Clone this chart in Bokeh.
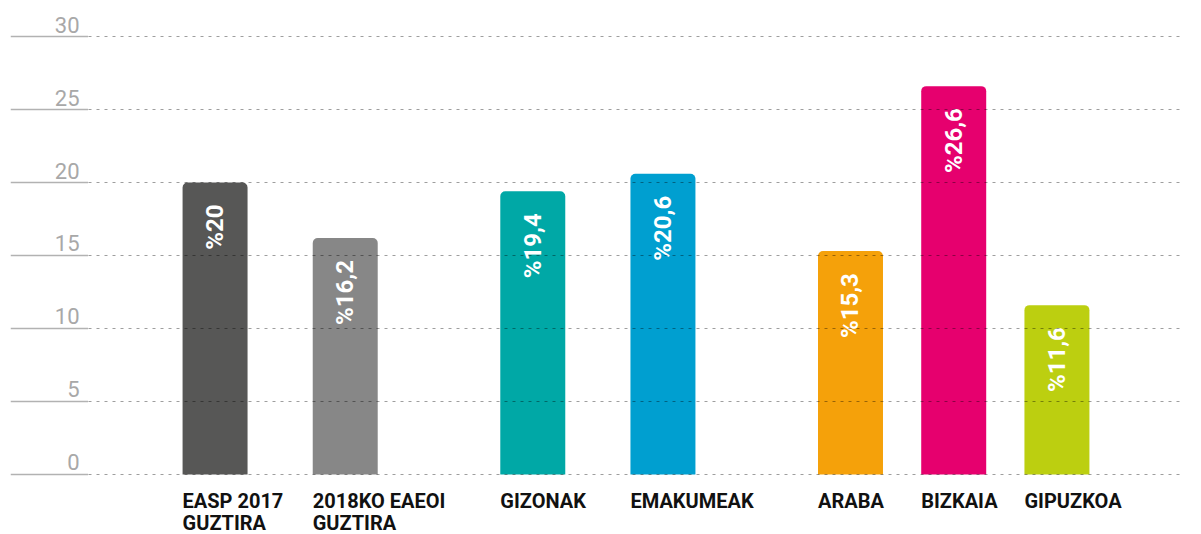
import math
from bokeh.plotting import figure
from bokeh.models import FactorRange, Range1d, Grid, FixedTicker, ColumnDataSource
from bokeh.layouts import row
from bokeh.core.properties import value
from bokeh.embed import file_html
from bokeh.resources import INLINE

FONT = "Roboto"

# ---- data ----
categories = ["EASP 2017\nGUZTIRA", "2018KO EAEOI\nGUZTIRA", "GIZONAK", "EMAKUMEAK",
              "ARABA", "BIZKAIA", "GIPUZKOA"]
groups = ["GUZTIRA", "GUZTIRA", "SEXUA", "SEXUA", "LURRALDEA", "LURRALDEA", "LURRALDEA"]
subgroups = ["EASP", "EAEOI", "GIZONAK", "EMAKUMEAK", "LURRALDEAK", "LURRALDEAK", "LURRALDEAK"]
values = [20, 16.2, 19.4, 20.6, 15.3, 26.6, 11.6]
value_labels = ["%20", "%16,2", "%19,4", "%20,6", "%15,3", "%26,6", "%11,6"]
colors = ["#575756", "#878787", "#00a8a6", "#009fd0", "#f5a10a", "#e6006e", "#bccf10"]
y_ticks = [0, 5, 10, 15, 20, 25, 30]
y_tick_labels = ["0", "5", "10", "15", "20", "25", "30"]

factors = [(g, s, c.replace("\n", " ")) for g, s, c in zip(groups, subgroups, categories)]
line1 = [c.split("\n")[0] for c in categories]
line2 = [c.split("\n")[1] if "\n" in c else "" for c in categories]

H = 534
y_range = Range1d(-4.11, 32.466)

# ---- left strip: solid tick lines + tick labels ----
left = figure(width=88, height=H, x_range=Range1d(0, 1), y_range=y_range,
              output_backend="svg", toolbar_location=None,
              x_axis_location=None, y_axis_location=None,
              min_border=0, min_border_left=10, min_border_right=0,
              min_border_top=0, min_border_bottom=0,
              outline_line_color=None, background_fill_color="white",
              border_fill_color="white")
left.xgrid.visible = False
left.ygrid.visible = False
left.add_layout(Grid(dimension=1, ticker=FixedTicker(ticks=y_ticks),
                     grid_line_color="#b2b2b2", grid_line_width=1.5))
left.text(x=1, y=y_ticks, text=y_tick_labels, text_align="right",
          text_baseline="alphabetic", x_offset=-9, y_offset=-12,
          text_font=value(FONT), text_font_size="22px", text_color="#a8a8a8")

# ---- main chart ----
x_range = FactorRange(*factors, group_padding=0.876, subgroup_padding=0.302,
                      factor_padding=0.0325, range_padding=0.766,
                      range_padding_units="absolute")

p = figure(width=1113, height=H, x_range=x_range, y_range=y_range,
           output_backend="svg", toolbar_location=None,
           x_axis_location=None, y_axis_location=None,
           min_border=0, min_border_left=0, min_border_right=18,
           min_border_top=0, min_border_bottom=0,
           outline_line_color=None, background_fill_color="white",
           border_fill_color="white")
p.xgrid.visible = False
p.ygrid.visible = False

source = ColumnDataSource(dict(x=factors, top=values, color=colors,
                               label=value_labels, line1=line1, line2=line2))

p.vbar(x="x", top="top", bottom=0, width=0.65, fill_color="color",
       line_color=None, border_radius=(5, 5, 0, 0), source=source)

p.add_layout(Grid(dimension=1, ticker=FixedTicker(ticks=y_ticks),
                  grid_line_color="black", grid_line_alpha=0.38,
                  grid_line_dash="3 5", grid_line_width=1, level="annotation"))

p.text(x="x", y="top", text="label", angle=math.pi / 2, text_align="right",
       text_baseline="middle", y_offset=22, text_color="white",
       text_font=value(FONT), text_font_style="bold", text_font_size="24px",
       source=source)

p.text(x="x", y=0, text="line1", x_offset=-32.5, y_offset=27,
       text_align="left", text_baseline="alphabetic", text_color="#111111",
       text_font=value(FONT), text_font_style="bold", text_font_size="20px",
       source=source)
p.text(x="x", y=0, text="line2", x_offset=-32.5, y_offset=49,
       text_align="left", text_baseline="alphabetic", text_color="#111111",
       text_font=value(FONT), text_font_style="bold", text_font_size="20px",
       source=source)

layout = row(left, p)
open("out.html", "w").write(file_html(layout, INLINE))
